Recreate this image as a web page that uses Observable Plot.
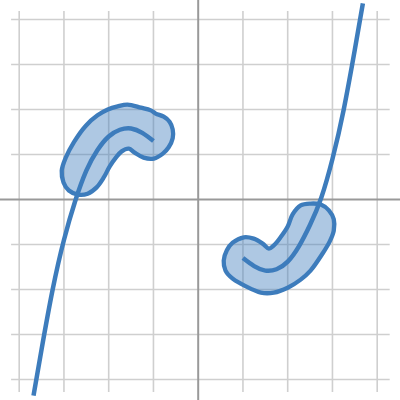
<!DOCTYPE html>
<html>
<head>
<meta charset="utf-8">
<script src="https://cdn.jsdelivr.net/npm/d3@7"></script>
<script src="https://cdn.jsdelivr.net/npm/@observablehq/plot@0.6"></script>
<style>
  body { margin: 0; background: #fff; }
</style>
</head>
<body>
<div id="chart"></div>
<script>
// grid positions
const gridTicks = [-4, -3, -2, -1, 1, 2, 3, 4]

// the curve (two pieces, gap between -1 and 1)
const curveLeftX = [-3.68, -3.5, -3.25, -3, -2.75, -2.5, -2.25, -2, -1.75, -1.5, -1.25, -1]
const curveLeftY = [-4.36, -3.33, -1.99, -0.9, -0.04, 0.64, 1.1, 1.4, 1.55, 1.58, 1.48, 1.3]
const curveRightX = [1, 1.25, 1.5, 1.75, 2, 2.25, 2.5, 2.75, 3, 3.25, 3.5, 3.68]
const curveRightY = [-1.3, -1.48, -1.58, -1.55, -1.38, -1.04, -0.56, 0.04, 0.9, 1.99, 3.33, 4.36]

// outlines of the two blobs
const blobLeftX = [-3.05, -2.96, -2.78, -2.51, -2.25, -2.02, -1.8, -1.58, -1.28, -1.06, -0.95, -0.77, -0.64, -0.57, -0.57,
  -0.66, -0.79, -0.99, -1.22, -1.42, -1.55, -1.71, -1.84, -1.98, -2.11, -2.27, -2.47, -2.69, -2.89, -3.01]
const blobLeftY = [0.64, 0.93, 1.27, 1.64, 1.87, 2.0, 2.07, 2.11, 2.04, 1.98, 1.91, 1.84, 1.73, 1.56, 1.36,
  1.16, 1.02, 0.91, 0.93, 1.04, 1.13, 1.07, 0.93, 0.73, 0.49, 0.27, 0.13, 0.11, 0.2, 0.38]
const blobRightX = [0.57, 0.64, 0.77, 1.02, 1.24, 1.44, 1.58, 1.69, 1.84, 2.0, 2.11, 2.29, 2.51, 2.74, 2.92, 3.03, 3.03,
  2.94, 2.78, 2.51, 2.29, 2.0, 1.69, 1.4, 1.17, 0.95, 0.77, 0.61]
const blobRightY = [-1.36, -1.13, -0.96, -0.84, -0.87, -0.98, -1.09, -1.02, -0.84, -0.6, -0.33, -0.13, -0.09, -0.11, -0.24, -0.44, -0.69,
  -0.93, -1.2, -1.58, -1.78, -1.96, -2.07, -2.07, -1.98, -1.87, -1.76, -1.58]

const toPts = (xs, ys, part) => xs.map((x, i) => ({x, y: ys[i], part}))
const curve = [...toPts(curveLeftX, curveLeftY, 'a'), ...toPts(curveRightX, curveRightY, 'b')]
const blobs = [...toPts(blobLeftX, blobLeftY, 'a'), ...toPts(blobRightX, blobRightY, 'b')]

const blue = '#3d7cbc'

let chart = Plot.plot({
    width: 400,
    height: 400,
    margin: 0,
    x: {domain: [-4, 4], range: [18.7, 376.7], axis: null},
    y: {domain: [-4, 4], range: [379, 19], axis: null},
    marks: [
        Plot.ruleX(gridTicks, {y1: -4.29, y2: 4.18, stroke: '#cfcfcf', strokeWidth: 1.6}),
        Plot.ruleY(gridTicks, {x1: -4.17, x2: 4.29, stroke: '#cfcfcf', strokeWidth: 1.6}),
        Plot.ruleX([0], {stroke: '#999', strokeWidth: 2}),
        Plot.ruleY([0], {stroke: '#999', strokeWidth: 2}),
        Plot.line(blobs, {
            x: 'x', y: 'y', z: 'part',
            curve: 'catmull-rom-closed',
            fill: blue, fillOpacity: 0.42,
            stroke: blue, strokeWidth: 4.3
        }),
        Plot.line(curve, {
            x: 'x', y: 'y', z: 'part',
            curve: 'natural',
            stroke: blue, strokeWidth: 4.5,
            strokeLinecap: 'butt'
        })
    ],
    style: {background: '#fff'}
})

d3.select('#chart').append(() => chart)
</script>
</body>
</html>
